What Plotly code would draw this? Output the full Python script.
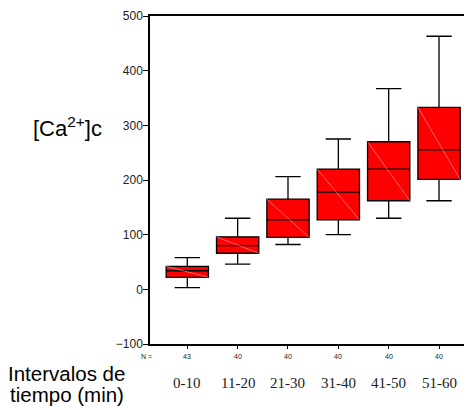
import plotly.graph_objects as go

categories = ["0-10", "11-20", "21-30", "31-40", "41-50", "51-60"]
counts = [43, 40, 40, 40, 40, 40]
lower_whisker = [3, 46, 82, 100, 130, 162]
q1 = [22, 66, 95, 127, 162, 201]
median = [34, 80, 127, 178, 220, 255]
q3 = [42, 96, 165, 220, 270, 333]
upper_whisker = [58, 130, 206, 275, 367, 463]
y_ticks = [-100, 0, 100, 200, 300, 400, 500]

pos = list(range(len(categories)))
box_w = 0.84

fig = go.Figure()
fig.add_trace(go.Box(
    x=pos, q1=q1, median=median, q3=q3,
    lowerfence=lower_whisker, upperfence=upper_whisker,
    width=box_w, whiskerwidth=0.6,
    fillcolor="#ff0000", line=dict(color="black", width=1.3),
    boxpoints=False, hoverinfo="skip", showlegend=False,
))

# thin light diagonal hatch line inside each box
dx, dy = [], []
for i in pos:
    dx += [i - box_w / 2, i + box_w / 2, None]
    dy += [q3[i], q1[i], None]
fig.add_trace(go.Scatter(x=dx, y=dy, mode="lines",
                         line=dict(color="rgba(255,190,190,0.9)", width=0.6),
                         hoverinfo="skip", showlegend=False))

sans = "Arial, Liberation Sans, sans-serif"
serif = "Times New Roman, Liberation Serif, serif"
for i, (c, n) in enumerate(zip(categories, counts)):
    fig.add_annotation(x=i, y=-0.0366, xref="x", yref="paper", text=str(n),
                       showarrow=False, font=dict(family=sans, size=7, color="#222"),
                       yanchor="middle")
    fig.add_annotation(x=i, y=-0.119, xref="x", yref="paper", text=c,
                       showarrow=False, font=dict(family=serif, size=15, color="#222"),
                       yanchor="middle")
fig.add_annotation(x=-0.01, y=-0.0366, xref="paper", yref="paper", text="N =",
                   showarrow=False, xanchor="center", yanchor="middle",
                   font=dict(family=sans, size=7, color="#222"))
fig.add_annotation(x=-0.2547, y=0.6616, xref="paper", yref="paper",
                   text="[Ca<sup>2+</sup>]c", showarrow=False,
                   xanchor="center", yanchor="middle",
                   font=dict(family=sans, size=22, color="black"))
fig.add_annotation(x=-0.2593, y=-0.0900, xref="paper", yref="paper",
                   text="Intervalos de", showarrow=False,
                   xanchor="center", yanchor="middle",
                   font=dict(family=sans, size=20.5, color="black"))
fig.add_annotation(x=-0.2593, y=-0.1540, xref="paper", yref="paper",
                   text="tiempo (min)", showarrow=False,
                   xanchor="center", yanchor="middle",
                   font=dict(family=sans, size=20.5, color="black"))

fig.update_layout(
    width=464, height=402,
    margin=dict(l=142, r=0, t=8, b=66),
    paper_bgcolor="white", plot_bgcolor="white",
    xaxis=dict(range=[-0.741, 5.655], tickvals=pos, showticklabels=False,
               ticks="outside", ticklen=3, tickcolor="black",
               showgrid=False, zeroline=False, showline=True, linecolor="black",
               linewidth=1.5, mirror=True),
    yaxis=dict(range=[-100, 500], tickvals=y_ticks, ticks="outside", ticklen=5,
               tickcolor="black", showgrid=False, zeroline=False, showline=True,
               linecolor="black", linewidth=1.5, ticklabelstandoff=-2,
               tickfont=dict(family=sans, size=12, color="#222")),
)

fig.write_html("out.html")
